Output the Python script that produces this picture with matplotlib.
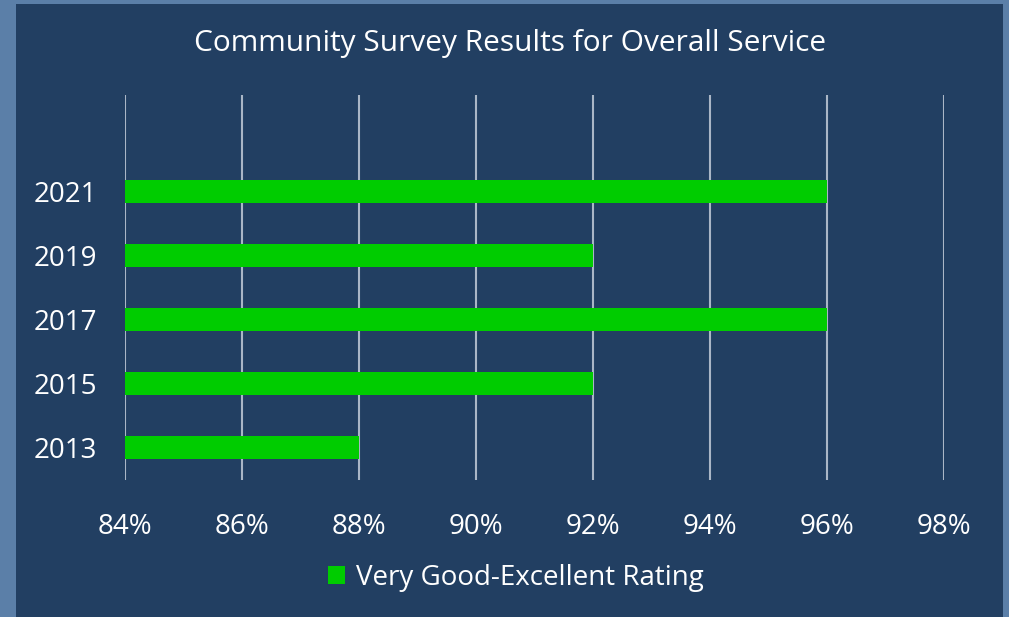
import numpy as np
import matplotlib.pyplot as plt
from matplotlib.patches import Rectangle, Patch
from matplotlib.ticker import FuncFormatter

# survey results, bottom to top
years = ['2013', '2015', '2017', '2019', '2021']
rating = [0.88, 0.92, 0.96, 0.92, 0.96]

navy = '#223f62'
green = '#00cc00'
plt.rcParams['font.family'] = ['Open Sans', 'DejaVu Sans']

W, H = 1009, 617
fig = plt.figure(figsize=(W / 100, H / 100), dpi=100, facecolor='#5b7fa8')

# dark panel behind the chart
fig.patches.append(Rectangle((16 / W, 0), (1003 - 16) / W, 1 - 4 / H,
                             transform=fig.transFigure, facecolor=navy,
                             edgecolor='none', zorder=-1))

ax = fig.add_axes([125 / W, 1 - 480 / H, (944 - 125) / W, (480 - 95) / H])
ax.set_facecolor('none')

y = np.arange(len(years))
ax.barh(y, rating, height=0.36, color=green, zorder=3)

ax.set_xlim(0.84, 0.98)
ax.set_ylim(-0.5, 5.5)
ax.set_xticks(np.arange(0.84, 0.981, 0.02))
ax.xaxis.set_major_formatter(FuncFormatter(lambda v, p: '{:.0f}%'.format(v * 100)))
ax.set_yticks(y)
ax.set_yticklabels(years)
ax.tick_params(length=0, colors='white', labelsize=20)
ax.tick_params(axis='x', pad=24)
ax.tick_params(axis='y', pad=20)
ax.grid(axis='x', color='#aab6c6', linewidth=1.5, zorder=1)
ax.grid(axis='y', visible=False)
for s in ax.spines.values():
    s.set_visible(False)

fig.text(510 / W, 1 - 44 / H, 'Community Survey Results for Overall Service',
         color='white', fontsize=21.5, ha='center', va='center')

fig.legend(handles=[Patch(facecolor=green, label='Very Good-Excellent Rating')],
           loc='center', bbox_to_anchor=(516 / W, 1 - 578 / H), frameon=False,
           fontsize=20, labelcolor='white', handlelength=0.6, handleheight=0.6,
           handletextpad=0.4)

fig.savefig('out.png', dpi=100, facecolor=fig.get_facecolor())
